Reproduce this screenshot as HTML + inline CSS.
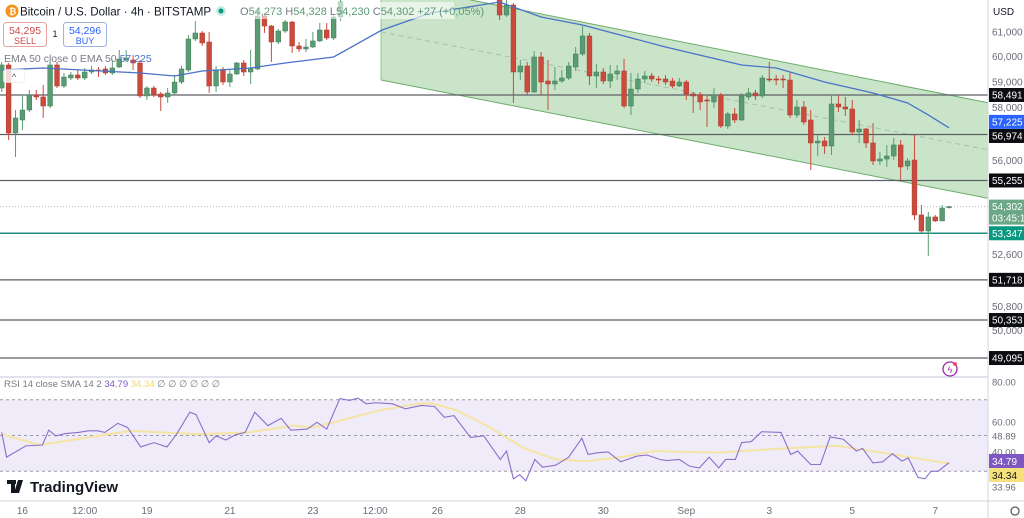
<!DOCTYPE html>
<html><head><meta charset="utf-8">
<style>
body{margin:0;background:#fff;width:1024px;height:518px;overflow:hidden;font-family:"Liberation Sans",sans-serif;}
svg{display:block}
text{font-family:"Liberation Sans",sans-serif}
</style></head>
<body>
<svg id="chart" width="1024" height="518" xmlns="http://www.w3.org/2000/svg">
  <defs>
    <clipPath id="mainClip"><rect x="0" y="0" width="988" height="376"/></clipPath>
    <clipPath id="rsiClip"><rect x="0" y="378" width="988" height="122"/></clipPath>
  </defs>
  <g id="channel" clip-path="url(#mainClip)"></g>
  <g id="hlines" clip-path="url(#mainClip)"></g>
  <g id="candles" clip-path="url(#mainClip)"></g>
  <g id="ema" clip-path="url(#mainClip)"></g>
  <line x1="0" y1="377" x2="988" y2="377" stroke="#e0e3eb" stroke-width="2"/>
  <g id="rsi" clip-path="url(#rsiClip)"></g>
  <line x1="988" y1="0" x2="988" y2="518" stroke="#d1d4dc"/>
  <line x1="0" y1="501" x2="1024" y2="501" stroke="#d1d4dc"/>
  <g id="axis"></g>
  <g id="taxis"></g>

  <g>
    <circle cx="12" cy="11" r="6.5" fill="#f7931a"/>
    <text x="9" y="14.5" font-size="9" fill="#fff" font-weight="bold">₿</text>
    <text x="20" y="15.5" font-size="11.6" fill="#131722">Bitcoin / U.S. Dollar · 4h · BITSTAMP</text>
    <circle cx="221" cy="11" r="5" fill="#c8ece5"/>
    <circle cx="221" cy="11" r="2.5" fill="#089981"/>
    <rect x="236" y="2" width="218" height="17" fill="#fff" opacity="0.6"/>
    <text x="240" y="15" font-size="11" fill="#5a9a78"><tspan fill="#787b86">O</tspan>54,273 <tspan fill="#787b86">H</tspan>54,328 <tspan fill="#787b86">L</tspan>54,230 <tspan fill="#787b86">C</tspan>54,302 +27 (+0,05%)</text>
    <rect x="3.5" y="22.5" width="43" height="24" rx="3" fill="#fff" stroke="#e8a0a0"/>
    <text x="25" y="34" font-size="10.5" fill="#d04848" text-anchor="middle">54,295</text>
    <text x="25" y="44" font-size="9" fill="#d04848" text-anchor="middle">SELL</text>
    <text x="55" y="37" font-size="9" fill="#131722" text-anchor="middle">1</text>
    <rect x="63.5" y="22.5" width="43" height="24" rx="3" fill="#fff" stroke="#9fb3e0"/>
    <text x="85" y="34" font-size="10.5" fill="#2962ff" text-anchor="middle">54,296</text>
    <text x="85" y="44" font-size="9" fill="#2962ff" text-anchor="middle">BUY</text>
    <text x="4" y="62" font-size="10.5" fill="#787b86">EMA 50 close 0 EMA 50 <tspan fill="#4a72c8">57,225</tspan></text>
    <rect x="3.5" y="69.5" width="21" height="13" rx="2" fill="#fff" opacity="0.8" stroke="#eee"/>
    <text x="14" y="80" font-size="9" fill="#555" text-anchor="middle">^</text>
    <text x="993" y="15" font-size="10" fill="#131722">USD</text>
    <text x="4" y="387" font-size="9.5" fill="#787b86">RSI 14 close SMA 14 2 <tspan fill="#7e57c2">34.79</tspan> <tspan fill="#f2d86a">34.34</tspan> ∅ ∅ ∅ ∅ ∅ ∅</text>
    <g>
      <rect x="7" y="480" width="9" height="4" fill="#131722"/>
      <rect x="11" y="480" width="4" height="13" fill="#131722"/>
      <polygon points="18,480 23,480 19,493 14,493" fill="#131722"/>
      <circle cx="20" cy="482" r="2" fill="#131722"/>
      <text x="30" y="492" font-size="15" font-weight="bold" fill="#131722">TradingView</text>
    </g>
    <circle cx="950" cy="369" r="7" fill="none" stroke="#9c27b0" stroke-width="1.3"/>
    <text x="950" y="373" font-size="9" fill="#9c27b0" text-anchor="middle">ϟ</text>
    <circle cx="955" cy="364" r="1.8" fill="#f23645"/>
    <circle cx="1015" cy="511" r="4" fill="none" stroke="#555" stroke-width="1.2"/>
  </g>
</svg>
<script>
const opens=[58764,59672,57030,57526,57910,58492,58414,58064,59672,58843,59157,59276,59157,59394,59473,59513,59355,59592,59870,59870,59751,58453,58764,58531,58414,58570,58999,59473,60714,60956,60592,58843,59473,58999,59315,59751,59394,59513,61650,61241,60592,61037,61404,60431,60311,60391,60633,61078,60754,61609,
62500,63100,63600,63300,63900,64300,64000,64500,64200,64600,64900,64500,64100,64400,64000,63700,64000,63600,63300,63600,63200,62900,
62516,61690,62103,59394,59632,58608,59990,59039,58921,59039,59157,59592,60110,60835,59236,59394,59039,59315,59434,58064,58725,59117,59236,59117,59117,59039,58843,58999,58531,58492,58297,58220,58492,57296,57756,57526,58414,58570,58453,59117,59117,59117,59078,57718,58026,57526,56652,56727,56539,58142,58026,57949,57068,57182,56652,55977,56051,56163,56577,55791,56014,54001,53428,53929,53786,54273];
const closes=[59672,57030,57603,57910,58492,58414,58064,59672,58843,59196,59276,59157,59394,59473,59460,59355,59552,59910,59950,59751,58453,58764,58492,58414,58570,58999,59513,60714,60956,60552,58843,59473,58999,59315,59751,59394,59552,61650,61241,60592,61037,61404,60431,60311,60391,60633,61078,60754,61609,62226,
63100,63600,63300,63900,64300,64000,64500,64200,64600,64900,64500,64100,64400,64000,63700,64000,63600,63300,63600,63200,62900,62700,
61690,62103,59394,59632,58608,59990,58999,58921,59039,59157,59632,60110,60835,59236,59394,59039,59315,59434,58064,58725,59117,59236,59117,59105,58999,58843,58999,58531,58453,58220,58285,58492,57296,57756,57526,58453,58570,58453,59157,59105,59105,59078,57718,58026,57449,56652,56727,56539,58142,58026,57949,57068,57182,56652,55977,56051,56163,56577,55754,55977,54001,53428,53929,53786,54252,54302];
const highs=[59791,59751,57910,58492,58686,58686,58882,59791,59791,59355,59394,59473,59552,59632,59592,59632,59870,60270,60270,60070,59870,58843,58843,58608,58764,59276,59632,60875,61445,61037,60997,59632,59592,59473,59791,59870,60270,61896,61773,61282,61119,61486,61445,60592,60714,60997,61364,61364,61733,62516,
63300,63900,63800,64200,64600,64500,64800,64700,64900,65200,65100,64700,64600,64500,64200,64200,64100,63800,63800,63700,63300,63000,
62724,62309,62186,59870,59791,60230,60190,59870,59592,59473,59791,60391,61241,60956,59711,59552,59672,59672,59910,59355,59355,59434,59355,59236,59276,59157,59157,59078,58608,58608,58492,58764,58570,57833,57987,58570,58764,58686,59276,59791,59276,59276,59355,58297,58258,57910,56954,56878,58492,58492,58414,58297,57526,57220,57411,56313,56577,56840,56765,56088,56954,54361,54109,54001,54361,54328];
const lows=[58608,56765,56126,57144,57833,58297,57603,57987,58764,58764,59078,59078,59078,59315,59196,59276,59276,59552,59791,59473,58375,58297,58414,57871,58181,58492,58921,59394,60633,60431,58570,58608,58882,58803,59276,59236,58921,59473,60956,59791,60512,60956,60150,60190,60190,60351,60592,60673,60673,61445,
62450,63000,63100,63200,63800,63800,63900,64000,64100,64400,64300,63900,63900,63800,63500,63500,63400,63100,63100,63000,62700,62550,
61486,61609,58181,59078,58492,58570,58492,57910,58686,58960,59078,59434,60030,58882,58764,58921,58764,59078,57987,57718,58570,58960,58999,58921,58882,58764,58803,58297,57795,57910,57258,57987,57220,57182,57411,57488,58297,58297,58375,58999,58882,58764,57603,57603,57335,55642,56163,56238,56200,57833,57680,56954,56652,56463,55828,55828,55754,56014,55273,55642,53821,53322,52547,53750,53786,54230];
const emaIdx=[0,6,20,25,29,36,41,48,55,62,72,78,84,96,107,112,119,126,131,134,137];
const emaVal=[59473,59552,59355,59236,59434,59552,59751,59990,61078,61774,62226,61609,61282,60391,59672,59552,58999,58570,58181,57718,57225];
const levelPrices=[58491,56974,55255,51718,50353,49095];
const supportPrice=53347;
const lastPrice=54302;
const channelIdx=[54.85,137];
const channelUpper=[63056,58491];
const channelLower=[59078,54880];
const channelMid=[61000,56680];
const priceTicks=[61000,60000,59000,58000,56000,52600,50800,50000];
const priceTickLabels=["61,000","60,000","59,000","58,000","56,000","52,600","50,800","50,000"];
const rsiIdx=[0,0.7,3.5,5.9,6.8,7.8,9.2,11.1,12.5,13.9,14.9,16.8,18.2,20.1,22,23.9,25.3,27.2,28.1,30,31,32.4,33.8,35.2,36.6,38.5,40.4,41.8,44.2,45.6,47,48.9,50.3,51.5,52.7,54.1,56.5,58.4,60.7,62.6,64,65.4,67.8,69.7,72.1,73,74,74.9,75.8,77.1,78.2,80.1,82,83.9,84.8,86.2,87.7,89.5,91.9,93.3,95.2,96.2,98,99.5,100.9,102.3,103.7,104.7,106.1,107,108.4,109.9,112.7,114.1,115.1,117,118.4,119.8,121.7,123.6,124.5,126,127.4,128.8,130.2,131.1,132.5,133.5,134.4,135.4,137];
const rsiVal=[51.7,37.9,44.2,44.7,53,49.8,51.1,51.7,52.6,52.6,51.7,56.8,54.5,43.6,46,43.6,50.8,63,61.7,46,49.8,47.5,50.4,51.7,63,55.5,59.6,53,53.6,57.4,53.6,70.6,69.6,70.9,67.7,68.3,67.7,64.9,66.8,66.2,60.2,61.1,48.9,49.8,36.6,41.3,25.8,28.1,24.7,36.6,32.3,33.4,37.9,48.5,39.4,40.4,40.8,35.3,38.5,39.1,36.6,36,36.6,32.8,31.9,37.9,31.9,36.6,36.6,46,46.6,52.1,51.7,39.4,41.3,33.8,33.8,49.2,47.9,41.3,42.8,34.7,35.3,39.8,35.7,37.5,26.6,25.8,30,30,34.79];
const smaIdx=[0,5.4,18.7,28.1,35.7,42.3,45.1,48.9,54.6,60.2,62.1,65.9,70.6,75.4,80.1,84.8,89.5,94.3,103.7,113.2,120.7,127.4,137];
const smaVal=[50.8,44.7,52.6,50.8,51.7,55.5,54.5,58.3,64,67.7,68.1,64,54.5,43.2,36.6,35.7,37.9,41.3,40.4,42.8,44.2,40.4,34.34];
const rsiTicks=[80,60,48.89,40,33.96];
const rsiTickLabels=["80.00","60.00","48.89","40.00","33.96"];
const timeIdx=[3,12,21,33,45,54,63,75,87,99,111,123,135];
const timeLabels=["16","12:00","19","21","23","12:00","26","28","30","Sep","3","5","7"];

const NS="http://www.w3.org/2000/svg";
const X0=1.7, STEP=6.915;
function xOf(i){return X0+i*STEP;}
function yOf(p){return 95-1502*Math.log(p/58491);}
function yR(r){return 399.7+(70-r)*1.79;}
function mk(tag,attrs,parent){const e=document.createElementNS(NS,tag);for(const k in attrs)e.setAttribute(k,attrs[k]);parent.appendChild(e);return e;}
const fmt=p=>Math.round(p).toLocaleString('en-US');

const ch=document.getElementById('channel');
function extend(idxs,vals,xe){const x1=xOf(idxs[0]),y1=yOf(vals[0]),x2=xOf(idxs[1]),y2=yOf(vals[1]);const s=(y2-y1)/(x2-x1);return [x1,y1,xe,y1+s*(xe-x1)];}
const U=extend(channelIdx,channelUpper,988),L=extend(channelIdx,channelLower,988),M=extend(channelIdx,channelMid,988);
const poly=mk('polygon',{points:`${U[0]},${U[1]} ${U[2]},${U[3]} ${L[2]},${L[3]} ${L[0]},${L[1]}`,fill:'#c9e4c9',stroke:'none'},ch);


const ul=mk('line',{x1:U[0],y1:U[1],x2:U[2],y2:U[3],stroke:'#6aad6a','stroke-width':1},ch);


const ll=mk('line',{x1:L[0],y1:L[1],x2:L[2],y2:L[3],stroke:'#6aad6a','stroke-width':1},ch);


const edge=mk('line',{x1:U[0],y1:U[1],x2:L[0],y2:L[1],stroke:'#8fc48f','stroke-width':1},ch);


const ml=mk('line',{x1:M[0],y1:M[1],x2:M[2],y2:M[3],stroke:'#a9bfa9','stroke-width':1,'stroke-dasharray':'5 4'},ch);



const hl=document.getElementById('hlines');
levelPrices.forEach(p=>{const l=mk('line',{x1:0,x2:988,y1:yOf(p),y2:yOf(p),stroke:'#5d5f66','stroke-width':1.2},hl);

});
const sl=mk('line',{x1:0,x2:988,y1:yOf(supportPrice),y2:yOf(supportPrice),stroke:'#1f8f80','stroke-width':1.5},hl);


const lp=mk('line',{x1:0,x2:988,y1:yOf(lastPrice),y2:yOf(lastPrice),stroke:'#b8bbc3','stroke-width':1,'stroke-dasharray':'1 2'},hl);



const cg=document.getElementById('candles');
for(let i=0;i<opens.length;i++){
  const up=closes[i]>=opens[i];const col=up?'#5a9c72':'#cc4a3c';
  const x=xOf(i);
  const w=mk('line',{x1:x,x2:x,y1:yOf(highs[i]),y2:yOf(lows[i]),stroke:col,'stroke-width':1},cg);
  
  
  const yt=Math.min(yOf(opens[i]),yOf(closes[i])),yb=Math.max(yOf(opens[i]),yOf(closes[i]));
  const b=mk('rect',{x:x-2.4,y:yt,width:4.8,height:Math.max(1,yb-yt),fill:col,stroke:up?'#3f7d56':'#a83a2e','stroke-width':0.5},cg);
  
  
}
const eg=document.getElementById('ema');
const ep=mk('polyline',{points:emaIdx.map((t,k)=>xOf(t)+','+yOf(emaVal[k])).join(' '),fill:'none',stroke:'#4a72c8','stroke-width':1.3},eg);



const rg=document.getElementById('rsi');
const band=mk('rect',{x:0,y:yR(70),width:988,height:yR(30)-yR(70),fill:'#efebf8'},rg);


[70,50,30].forEach(v=>{const l=mk('line',{x1:0,x2:988,y1:yR(v),y2:yR(v),stroke:'#9a9aa8','stroke-width':1,'stroke-dasharray':'3 3'},rg);

});
const sm=mk('polyline',{points:smaIdx.map((t,k)=>xOf(t)+','+yR(smaVal[k])).join(' '),fill:'none',stroke:'#f5e4a4','stroke-width':2},rg);


const rl=mk('polyline',{points:rsiIdx.map((t,k)=>xOf(t)+','+yR(rsiVal[k])).join(' '),fill:'none',stroke:'#8a70cc','stroke-width':1.1},rg);



const ax=document.getElementById('axis');
priceTicks.forEach((p,k)=>{const t=mk('text',{x:992,y:yOf(p)+3.5,'font-size':10,fill:'#6a6d78'},ax);t.textContent=priceTickLabels[k];

});
function tag(p,bg,fg,h,extra,name,dy){const y=yOf(p)+(dy||0);const r=mk('rect',{x:989,y:y-7,width:35,height:h,fill:bg},ax);


const t=mk('text',{x:992,y:y+3.5,'font-size':10,fill:fg},ax);t.textContent=fmt(p);


if(extra){const t2=mk('text',{x:992,y:y+15,'font-size':10,fill:fg},ax);t2.textContent=extra;

}}
levelPrices.forEach(p=>tag(p,'#0c0d10','#fff',14,null,'level-price-tag',p===56974?1.5:0));
tag(emaVal[emaVal.length-1],'#2962ff','#fff',14,null,'ema-price-tag',-6);
tag(lastPrice,'#6aa886','#fff',25,'03:45:1','last-price-tag');
tag(supportPrice,'#089981','#fff',14,null,'support-price-tag');
rsiTicks.forEach((v,k)=>{const yy=[382,422,436,452,487][k];const t=mk('text',{x:992,y:yy+3.5,'font-size':9.5,fill:'#6a6d78'},ax);t.textContent=rsiTickLabels[k];

});
const rb=mk('rect',{x:989,y:454,width:35,height:14,fill:'#7e57c2'},ax);


const rt=mk('text',{x:992,y:465,'font-size':10,fill:'#fff'},ax);rt.textContent=rsiVal[rsiVal.length-1].toFixed(2);


const sb=mk('rect',{x:989,y:468,width:35,height:14,fill:'#f5e07a'},ax);


const st=mk('text',{x:992,y:479,'font-size':10,fill:'#131722'},ax);st.textContent=smaVal[smaVal.length-1].toFixed(2);



const ta=document.getElementById('taxis');
timeIdx.forEach((t,k)=>{const e=mk('text',{x:xOf(t),y:514,'font-size':10,fill:'#6a6d78','text-anchor':'middle'},ta);e.textContent=timeLabels[k];

});
</script>
</body></html>
